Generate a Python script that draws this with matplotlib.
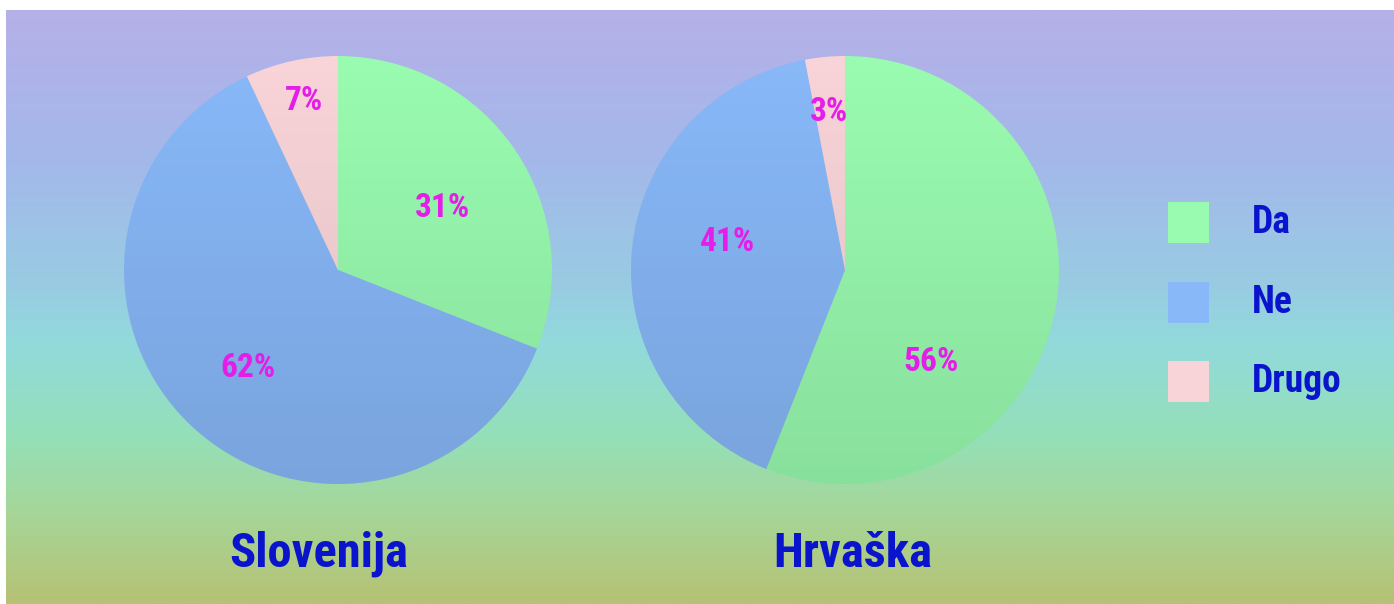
import matplotlib as mpl
import matplotlib.pyplot as plt
import numpy as np
from matplotlib.colors import LinearSegmentedColormap
from matplotlib.patches import Circle, Rectangle

# data
countries = ['Slovenija', 'Hrvaška']
answers = ['Da', 'Ne', 'Drugo']
shares = {
    'Slovenija': [31, 62, 7],
    'Hrvaška': [56, 41, 3],
}

# style
sliceColors = ['#99fbb0', '#88b8f8', '#f8d4d8']
pctColor = '#e41ee8'
textColor = '#0a14cc'
W, H = 1394, 604
fontList = ['Roboto Condensed', 'Liberation Sans', 'DejaVu Sans']

# label spots inside each pie (pie units, radius = 1)
labelSpots = {
    'Slovenija': [(0.49, 0.29), (-0.42, -0.46), (-0.16, 0.79)],
    'Hrvaška': [(0.40, -0.43), (-0.55, 0.13), (-0.075, 0.74)],
}
pieCenters = {'Slovenija': (338, 270), 'Hrvaška': (845, 270)}
pieRadius = 214
titleX = {'Slovenija': 319, 'Hrvaška': 853}

fig = plt.figure(figsize=(W / 100, H / 100), dpi=100)
fig.patch.set_facecolor('white')

# gradient background
bgAx = fig.add_axes([6 / W, 0, (W - 6) / W, (H - 10) / H])
bgAx.set_axis_off()
stops = [(0.0, '#b5b0e8'), (0.25, '#a4b8ea'), (0.47, '#98cce2'), (0.56, '#92dadc'),
         (0.72, '#94e0b8'), (0.85, '#a6d698'), (1.0, '#b6c274')]
bgCmap = LinearSegmentedColormap.from_list('bg', stops)
bgAx.imshow(np.linspace(0, 1, 300).reshape(-1, 1), cmap=bgCmap, aspect='auto',
            extent=[0, 1, 0, 1], origin='upper')

def px2fig(x, y):
    return x / W, 1 - y / H

for country in countries:
    cx, cy = pieCenters[country]
    ax = fig.add_axes([(cx - pieRadius) / W, (H - cy - pieRadius) / H,
                       2 * pieRadius / W, 2 * pieRadius / H])
    ax.set_axis_off()
    wedges, _ = ax.pie(shares[country], colors=sliceColors, startangle=90,
                       counterclock=False, radius=1.0,
                       wedgeprops=dict(linewidth=0))
    # slight darkening toward the bottom of the disc
    shade = np.zeros((200, 1, 4))
    shade[:, 0, 3] = np.linspace(0.0, 0.11, 200)
    im = ax.imshow(shade, extent=[-1, 1, -1, 1], origin='upper', aspect='auto', zorder=3)
    im.set_clip_path(Circle((0, 0), 1.0, transform=ax.transData))
    ax.set_xlim(-1, 1)
    ax.set_ylim(-1, 1)
    for val, (lx, ly) in zip(shares[country], labelSpots[country]):
        ax.text(lx, ly, f'{val}%', ha='center', va='center', color=pctColor,
                fontsize=24, fontweight='bold', family=fontList, zorder=4)
    tx, ty = px2fig(titleX[country], 554)
    fig.text(tx, ty, country, ha='center', va='center', color=textColor,
             fontsize=35, fontweight='bold', family=fontList)

# legend
for i, (lab, col) in enumerate(zip(answers, sliceColors)):
    top = 202 + i * 79.5
    x0, y0 = px2fig(1168, top + 41)
    fig.patches.append(Rectangle((x0, y0), 41 / W, 41 / H, transform=fig.transFigure,
                                 facecolor=col, edgecolor='none'))
    tx, ty = px2fig(1252, top + 21)
    fig.text(tx, ty, lab, ha='left', va='center', color=textColor,
             fontsize=27, fontweight='bold', family=fontList)

fig.savefig('out.png', dpi=100)
